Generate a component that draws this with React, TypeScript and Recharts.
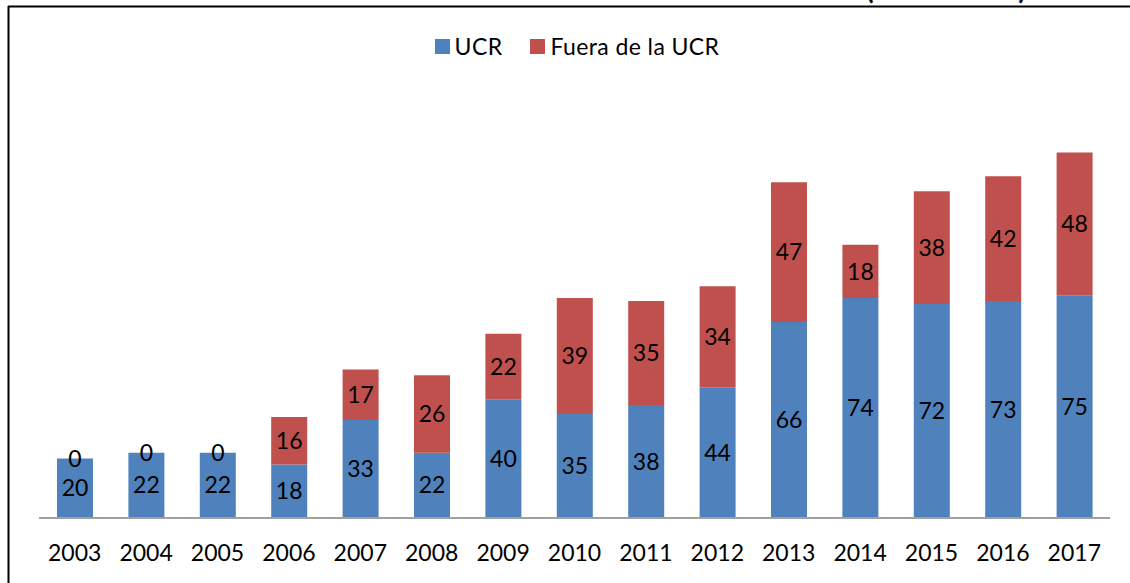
import { BarChart, Bar, XAxis, YAxis, LabelList } from "recharts";

const years = [
  "2003", "2004", "2005", "2006", "2007", "2008", "2009", "2010",
  "2011", "2012", "2013", "2014", "2015", "2016", "2017",
];
const ucr = [20, 22, 22, 18, 33, 22, 40, 35, 38, 44, 66, 74, 72, 73, 75];
const fuera = [0, 0, 0, 16, 17, 26, 22, 39, 35, 34, 47, 18, 38, 42, 48];

const BLUE = "#4F81BD";
const RED = "#C0504D";
const FONT = "Lato, 'Open Sans', sans-serif";

const rows = years.map((year, i) => ({ year, ucr: ucr[i], fuera: fuera[i] }));

function LegendBox() {
  const items = [
    { label: "UCR", color: BLUE },
    { label: "Fuera de la UCR", color: RED },
  ];
  return (
    <div
      style={{
        position: "absolute",
        top: 32,
        left: 0,
        width: 1130,
        display: "flex",
        justifyContent: "center",
        gap: 28,
        fontFamily: FONT,
        fontSize: 23,
        color: "#000",
        paddingLeft: 24,
        boxSizing: "border-box",
      }}
    >
      {items.map((it) => (
        <span key={it.label} style={{ display: "flex", alignItems: "center", gap: 5 }}>
          <span style={{ width: 15, height: 15, background: it.color, display: "inline-block" }} />
          <span style={{ letterSpacing: 0.4 }}>{it.label}</span>
        </span>
      ))}
    </div>
  );
}

// zero-height "fuera" segments: draw their label on the top edge of the UCR bar
function ZeroLabel(props: any) {
  const { x, y, width, value } = props;
  if (value !== 0) return null;
  return (
    <text
      x={x + width / 2}
      y={y}
      dy="0.35em"
      textAnchor="middle"
      fontSize={23}
      fontFamily={FONT}
      fill="#000"
    >
      {value}
    </text>
  );
}

export default function App() {
  return (
    <div style={{ position: "relative", width: 1130, height: 583, background: "#fff", overflow: "hidden" }}>
      <style>{`body{margin:0}`}</style>
      <BarChart
        width={1130}
        height={583}
        data={rows}
        margin={{ top: 102, right: 20, bottom: 25, left: 39 }}
      >
        <XAxis
          dataKey="year"
          height={40}
          tickLine={false}
          tickMargin={21}
          axisLine={{ stroke: "#A0A0A0", strokeWidth: 2 }}
          tick={{ fontSize: 23, fill: "#000", fontFamily: FONT }}
          interval={0}
        />
        <YAxis hide type="number" domain={[0, 140]} allowDataOverflow />
        <Bar dataKey="ucr" stackId="a" fill={BLUE} barSize={36} isAnimationActive={false}>
          <LabelList dataKey="ucr" position="center" fill="#000" fontSize={23} fontFamily={FONT} />
          <LabelList dataKey="fuera" content={ZeroLabel} />
        </Bar>
        <Bar dataKey="fuera" stackId="a" fill={RED} barSize={36} isAnimationActive={false}>
          <LabelList dataKey="fuera" position="center" fill="#000" fontSize={23} fontFamily={FONT} />
        </Bar>
      </BarChart>
      <LegendBox />
      <svg
        width={1130}
        height={583}
        style={{ position: "absolute", left: 0, top: 0, pointerEvents: "none" }}
      >
        <text x={866} y={-1} fontFamily={FONT} fontWeight="bold" fontSize={28} textLength={160} fill="#000">
          (2003-2017)
        </text>
        <line x1={8} y1={6.5} x2={1130} y2={6.5} stroke="#000" strokeWidth={2} />
        <line x1={8.5} y1={6} x2={8.5} y2={583} stroke="#000" strokeWidth={2} />
      </svg>
    </div>
  );
}
